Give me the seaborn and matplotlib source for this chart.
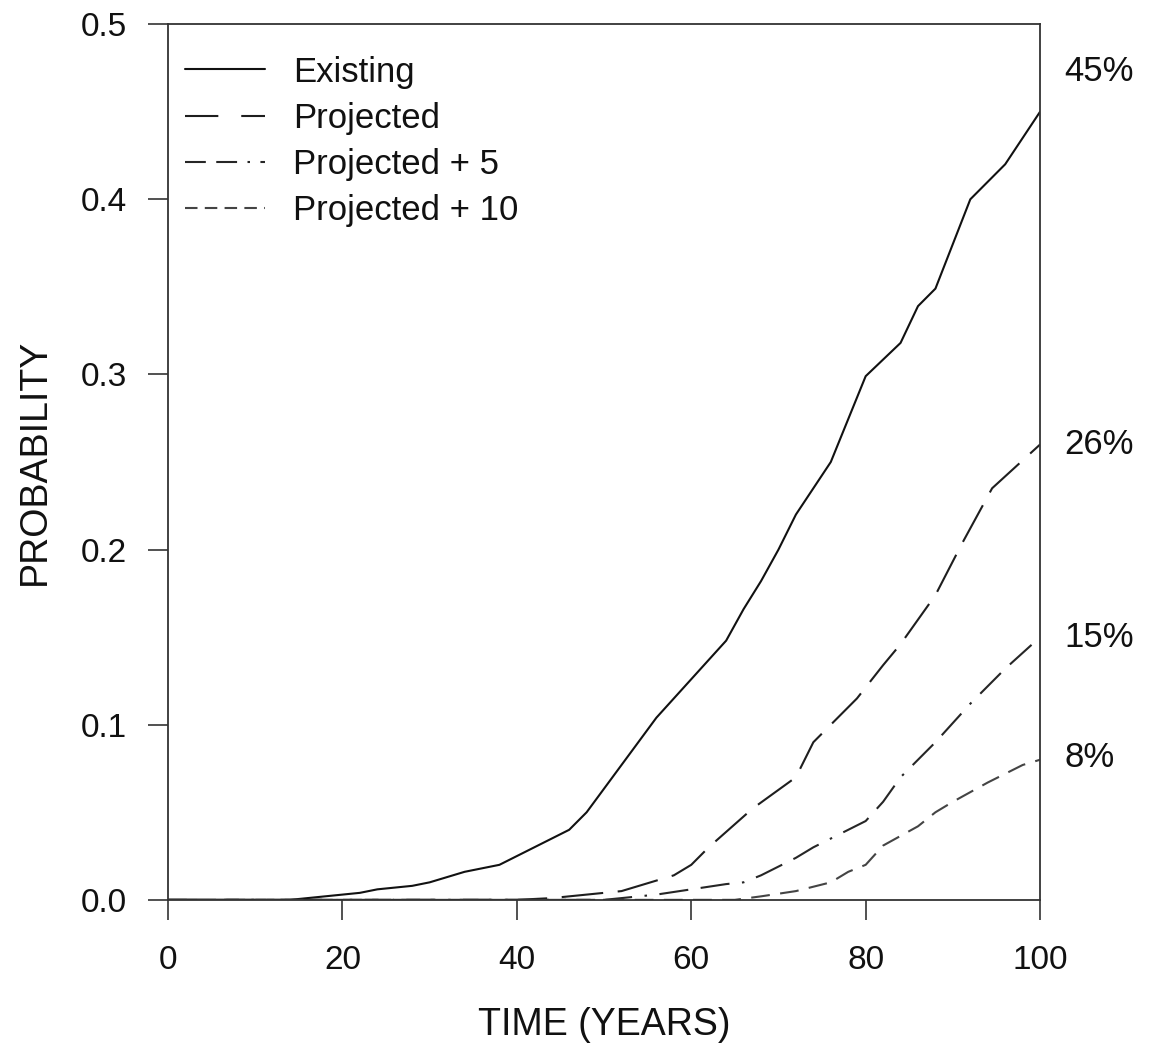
import matplotlib
matplotlib.use('Agg')
import matplotlib.pyplot as plt
import seaborn as sns
import pandas as pd

# values
existing_x = [0, 14, 20, 22, 24, 28, 30, 34, 38, 42, 46, 48, 52, 56, 60, 64, 66, 68, 70, 72, 76, 80, 84, 86, 88, 92, 96, 100]
existing_y = [0, 0, 0.003, 0.004, 0.006, 0.008, 0.010, 0.016, 0.020, 0.030, 0.040, 0.050, 0.077, 0.104, 0.126,
              0.148, 0.166, 0.182, 0.200, 0.220, 0.250, 0.299, 0.318, 0.339, 0.349, 0.400, 0.420, 0.450]

projected_x = [0, 40, 44, 46, 52, 58, 60, 62, 67, 72, 74, 79, 82, 84, 86, 88, 91, 94.5, 100]
projected_y = [0, 0, 0.001, 0.002, 0.005, 0.014, 0.020, 0.030, 0.052, 0.070, 0.090, 0.115, 0.134, 0.146,
               0.160, 0.174, 0.203, 0.235, 0.260]

proj5_x = [0, 50, 52, 56, 60, 64, 66, 68, 72, 74, 78, 80, 82, 84, 86, 88, 92, 96, 100]
proj5_y = [0, 0, 0.001, 0.003, 0.006, 0.009, 0.010, 0.014, 0.024, 0.030, 0.040, 0.045, 0.056, 0.070,
           0.080, 0.090, 0.112, 0.132, 0.150]

proj10_x = [0, 65, 68, 72, 76, 78, 80, 82, 86, 88, 90, 94, 98, 100]
proj10_y = [0, 0, 0.002, 0.005, 0.010, 0.016, 0.020, 0.031, 0.042, 0.050, 0.056, 0.067, 0.077, 0.080]

scenarios = ['Existing', 'Projected', 'Projected + 5', 'Projected + 10']
end_labels = ['45%', '26%', '15%', '8%']
end_label_y = [0.473, 0.26, 0.15, 0.081]

frames = []
for name, xs, ys in zip(scenarios,
                        [existing_x, projected_x, proj5_x, proj10_x],
                        [existing_y, projected_y, proj5_y, proj10_y]):
    frames.append(pd.DataFrame({'time': xs, 'prob': ys, 'scenario': name}))
df = pd.concat(frames, ignore_index=True)

sns.set_style('white')
plt.rcParams['font.family'] = ['Liberation Sans', 'DejaVu Sans']

fig = plt.figure(figsize=(11.55, 10.5), dpi=100)
ax = fig.add_axes([0.1455, 0.143, 0.755, 0.834])

palette = {'Existing': '#111111', 'Projected': '#1e1e1e',
           'Projected + 5': '#262626', 'Projected + 10': '#444444'}
# dash patterns along the curves
dashes = {'Existing': '',
          'Projected': (20, 7),
          'Projected + 5': (14, 6, 14, 6, 1.2, 6),
          'Projected + 10': (9, 5)}
# the legend keys use shorter patterns, as in the original
legend_dashes = {'Existing': None,
                 'Projected': (16, 11),
                 'Projected + 5': (10, 5, 10, 5, 1.2, 5),
                 'Projected + 10': (6, 3.5)}

sns.lineplot(data=df, x='time', y='prob', hue='scenario', style='scenario',
             hue_order=scenarios, style_order=scenarios,
             palette=palette, dashes=dashes, estimator=None, linewidth=1.5,
             ax=ax)

ax.set_xlim(0, 100)
ax.set_ylim(0, 0.5)
ax.set_xticks([0, 20, 40, 60, 80, 100])
ax.set_yticks([0.0, 0.1, 0.2, 0.3, 0.4, 0.5])
ax.set_yticklabels(['0.0', '0.1', '0.2', '0.3', '0.4', '0.5'])

for sp in ax.spines.values():
    sp.set_color('#333333')
    sp.set_linewidth(1.3)

ax.tick_params(axis='x', direction='out', length=14.5, width=1.2, color='#333333',
               pad=18, labelsize=24, bottom=True, labelcolor='#111111')
ax.tick_params(axis='y', direction='out', length=14.5, width=1.2, color='#333333',
               pad=15, labelsize=24, left=True, labelcolor='#111111')

ax.set_xlabel('TIME (YEARS)', fontsize=27, labelpad=22, color='#111111')
ax.set_ylabel('PROBABILITY', fontsize=27, labelpad=20, color='#111111')

for lab, yv in zip(end_labels, end_label_y):
    ax.text(102.8, yv, lab, fontsize=25, va='center', ha='left', clip_on=False,
            color='#111111')

handles, labels = ax.get_legend_handles_labels()
keep = [(h, l) for h, l in zip(handles, labels) if l in scenarios]
leg = ax.legend([h for h, l in keep], [l for h, l in keep], loc='upper left',
                frameon=False, fontsize=25, handlelength=2.3, handletextpad=0.8,
                labelspacing=0.38, borderaxespad=0.1, bbox_to_anchor=(0.0, 0.984))
for line, txt in zip(leg.get_lines(), leg.get_texts()):
    d = legend_dashes.get(txt.get_text())
    if d is not None:
        line.set_dashes(d)
    txt.set_color('#111111')

plt.savefig('out.png', dpi=100)
plt.close()
